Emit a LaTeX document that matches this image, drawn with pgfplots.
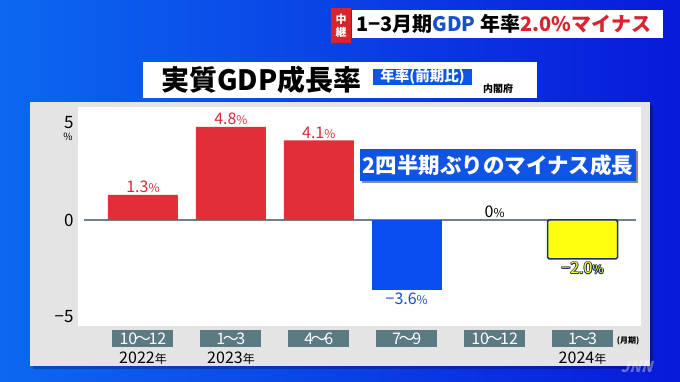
\documentclass[border=0pt]{standalone}
\usepackage{fontspec}
\setmainfont{Noto Sans CJK JP}
\usepackage{pgfplots}
\pgfplotsset{compat=1.18}
\definecolor{bgl}{RGB}{12,104,240}
\definecolor{bgr}{RGB}{8,26,218}
\definecolor{panelgrey}{RGB}{228,228,228}
\definecolor{barred}{RGB}{226,46,56}
\definecolor{labred}{RGB}{212,44,56}
\definecolor{barblue}{RGB}{10,78,240}
\definecolor{labblue}{RGB}{24,72,220}
\definecolor{baryellow}{RGB}{255,255,16}
\definecolor{outblue}{RGB}{26,48,120}
\definecolor{slate}{RGB}{92,122,130}
\definecolor{zeroline}{RGB}{110,130,138}
\definecolor{boxblue}{RGB}{16,84,230}
\definecolor{gdpblue}{RGB}{24,80,200}
\definecolor{bannerred}{RGB}{214,36,48}
\newcommand\outl[1]{\leavevmode\rlap{\kern0.8pt\textcolor{outblue}{#1}}\rlap{\kern-0.8pt\textcolor{outblue}{#1}}\rlap{\raisebox{0.8pt}{\textcolor{outblue}{#1}}}\rlap{\raisebox{-0.8pt}{\textcolor{outblue}{#1}}}\rlap{\kern0.6pt\raisebox{0.6pt}{\textcolor{outblue}{#1}}}\rlap{\kern-0.6pt\raisebox{-0.6pt}{\textcolor{outblue}{#1}}}\rlap{\kern0.6pt\raisebox{-0.6pt}{\textcolor{outblue}{#1}}}\rlap{\kern-0.6pt\raisebox{0.6pt}{\textcolor{outblue}{#1}}}\textcolor{baryellow}{#1}}
\newcommand\wv{\kern-0.15em〜\kern-0.15em}
\begin{document}
\begin{tikzpicture}[x=1pt,y=1pt]
\useasboundingbox (0,0) rectangle (680,382);
\shade[left color=bgl, right color=bgr] (0,0) rectangle (680,382);
\fill[black, opacity=0.25] (33,13) rectangle (653,277);
\fill[panelgrey] (30,16) rectangle (650,280);
% title box
\fill[white] (143,284) rectangle (537,320);
\node[anchor=west, inner sep=0pt, font=\bfseries\fontsize{28}{28}\selectfont] at (161,302) {実質GDP成長率};
\fill[boxblue] (373,297) rectangle (472,313);
\node[text=white, inner sep=0pt, font=\bfseries\fontsize{14.5}{14.5}\selectfont] at (422.5,305) {年率(前期比)};
\node[anchor=west, inner sep=0pt, font=\bfseries\fontsize{10}{10}\selectfont] at (483,293) {内閣府};
% top banner
\fill[white] (352,344) rectangle (663,372);
\fill[bannerred] (331,339) rectangle (351,374);
\node[text=white, inner sep=0pt, align=center, font=\bfseries\fontsize{11}{13}\selectfont] at (341,356.5) {中\\継};
\node[anchor=west, inner sep=0pt, font=\bfseries\fontsize{20}{20}\selectfont] at (356,358) {1−3月期\textcolor{gdpblue}{GDP} 年率\textcolor{bannerred}{2.0\%マイナス}};
\begin{axis}[at={(78pt,56pt)}, anchor=south west, scale only axis,
  width=563pt, height=219pt,
  xmin=-0.739, xmax=5.665, ymin=-5.464, ymax=5.825,
  axis background/.style={fill=white},
  axis line style={draw=none}, major tick length=0pt, tick style={draw=none},
  clip=false,
  xtick={0,1,2,3,4,5},
  xticklabels={10\wv12,1\wv3,4\wv6,7\wv9,10\wv12,1\wv3},
  xticklabel style={fill=slate, text=white, minimum width=61pt, minimum height=17pt, inner sep=0pt, anchor=north, yshift=-4pt, font=\fontsize{16}{16}\selectfont},
  ytick={-5,0,5},
  yticklabels={−5,0,5},
  yticklabel style={font=\fontsize{17}{17}\selectfont, anchor=east, xshift=-1pt},
  point meta=explicit symbolic,
]
\addplot[draw=zeroline, line width=1.5pt, forget plot] coordinates {(-0.671,0) (5.61,0)};
\addplot[ybar, bar width=70pt, bar shift=0pt, fill=barred, draw=none,
  nodes near coords={\pgfplotspointmeta{\fontsize{12}{12}\selectfont\%}},
  nodes near coords style={text=labred, font=\fontsize{16}{16}\selectfont, anchor=south, inner sep=2pt}]
  coordinates {(0,1.3) [1.3] (1,4.8) [4.8] (2,4.1) [4.1]};
\addplot[ybar, bar width=70pt, bar shift=0pt, fill=barblue, draw=none,
  nodes near coords={\pgfplotspointmeta{\fontsize{12}{12}\selectfont\%}},
  nodes near coords style={text=labblue, font=\fontsize{16}{16}\selectfont, anchor=north, inner sep=3pt}]
  coordinates {(3,-3.6) [−3.6]};
\addplot[ybar, bar width=70pt, bar shift=0pt, fill=none, draw=none,
  nodes near coords={\pgfplotspointmeta{\fontsize{12}{12}\selectfont\%}},
  nodes near coords style={text=black, font=\fontsize{16}{16}\selectfont, anchor=south, inner sep=2pt}]
  coordinates {(4,0) [0]};
\addplot[ybar, bar width=70pt, bar shift=0pt, fill=baryellow, draw=outblue, line width=1.5pt, rounded corners=1.5pt,
  nodes near coords={\outl{\pgfplotspointmeta}\outl{\fontsize{12}{12}\selectfont\%}},
  nodes near coords style={font=\fontsize{16}{16}\selectfont, anchor=north, inner sep=2pt}]
  coordinates {(5,-2.0) [−2.0]};
\end{axis}
\node[inner sep=0pt, font=\fontsize{10}{10}\selectfont] at (68,245) {\%};
\node[inner sep=0pt, font=\fontsize{16}{16}\selectfont] at (143,24) {2022{\fontsize{12}{12}\selectfont 年}};
\node[inner sep=0pt, font=\fontsize{16}{16}\selectfont] at (231,24) {2023{\fontsize{12}{12}\selectfont 年}};
\node[inner sep=0pt, font=\fontsize{16}{16}\selectfont] at (582.5,24) {2024{\fontsize{12}{12}\selectfont 年}};
\node[inner sep=0pt, font=\bfseries\fontsize{8}{8}\selectfont] at (628,41) {(月期)};
\node[inner sep=0pt, text=white, opacity=0.35, xslant=0.3, font=\bfseries\fontsize{15}{15}\selectfont] at (638,15) {JNN};
% annotation
\fill[black, opacity=0.45] (362,199) rectangle (638,231);
\fill[boxblue] (360,201) rectangle (636,233);
\node[text=white, inner sep=0pt, font=\bfseries\fontsize{21.5}{21.5}\selectfont] at (498,217) {2四半期ぶりのマイナス成長};
\end{tikzpicture}
\end{document}
